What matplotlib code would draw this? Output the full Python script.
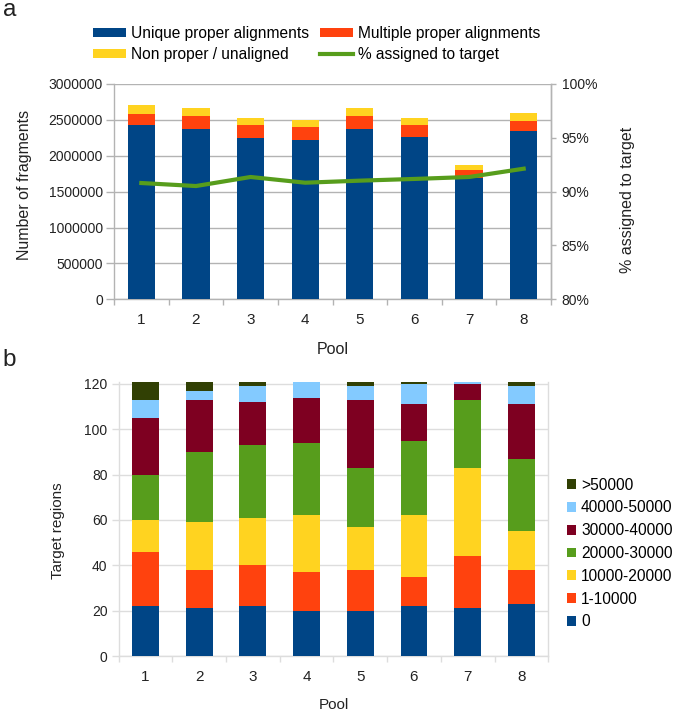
import matplotlib
matplotlib.use("Agg")
import matplotlib.pyplot as plt
import numpy as np
from matplotlib.patches import Patch
from matplotlib.lines import Line2D
from matplotlib.ticker import FuncFormatter, MultipleLocator

plt.rcParams['font.family'] = ['Liberation Sans', 'DejaVu Sans']

pools = ["1", "2", "3", "4", "5", "6", "7", "8"]

# Panel a
unique_proper = [2429000, 2373000, 2252000, 2220000, 2373000, 2262000, 1686000, 2341000]
multiple_proper = [153000, 177000, 177000, 177000, 186000, 162000, 120000, 148000]
non_proper = [130000, 120000, 97000, 101000, 111000, 102000, 65000, 111000]
pct_assigned = [90.80, 90.52, 91.36, 90.83, 91.02, 91.18, 91.36, 92.13]

# Panel b
bin_labels = ["0", "1-10000", "10000-20000", "20000-30000", "30000-40000", "40000-50000", ">50000"]
bin_0 = [22, 21, 22, 20, 20, 22, 21, 23]
bin_1_10000 = [24, 17, 18, 17, 18, 13, 23, 15]
bin_10000_20000 = [14, 21, 21, 25, 19, 27, 39, 17]
bin_20000_30000 = [20, 31, 32, 32, 26, 33, 30, 32]
bin_30000_40000 = [25, 23, 19, 20, 30, 16, 7, 24]
bin_40000_50000 = [8, 4, 7, 7, 6, 9, 1, 8]
bin_gt_50000 = [8, 4, 2, 0, 2, 1, 0, 2]

C_BLUE = "#004586"
C_RED = "#ff420e"
C_YEL = "#ffd320"
C_GREEN = "#579d1c"
C_MAROON = "#7e0021"
C_LBLUE = "#83caff"
C_DGREEN = "#314004"
TXT = "#222222"
FS_TICK = 10
FS_XTICK = 11
FS_TITLE_A = 11.5
FS_TITLE_B = 11
FS_LEG = 11.2
GRID_A = "#b3b3b3"
GRID_B = "#dddddd"

fig = plt.figure(figsize=(6.75, 7.14), dpi=100)

x = np.arange(1, len(pools) + 1)
bw = 0.5

# ---------------- Panel a ----------------
axa = fig.add_axes([0.1689, 0.5808, 0.6474, 0.3016])
u = np.array(unique_proper)
m = np.array(multiple_proper)
n = np.array(non_proper)
axa.bar(x, u, bw, color=C_BLUE, zorder=3)
axa.bar(x, m, bw, bottom=u, color=C_RED, zorder=3)
axa.bar(x, n, bw, bottom=u + m, color=C_YEL, zorder=3)
axa.set_xlim(0.5, 8.5)
axa.set_ylim(0, 3000000)
axa.yaxis.set_major_locator(MultipleLocator(500000))
axa.yaxis.set_major_formatter(FuncFormatter(lambda v, p: f"{int(v)}"))
axa.grid(axis='y', color=GRID_A, linewidth=1.0, zorder=0)
axa.set_axisbelow(True)
axa.spines['top'].set_visible(False)
for s in ['left', 'right', 'bottom']:
    axa.spines[s].set_color(GRID_A)
    axa.spines[s].set_linewidth(1.0)
axa.set_xticks(x)
axa.set_xticklabels(pools)
axa.set_xticks(np.arange(0.5, 9.0, 1.0), minor=True)
axa.tick_params(axis='x', which='major', length=0, pad=10, labelsize=FS_XTICK, labelcolor=TXT)
axa.tick_params(axis='x', which='minor', length=4.3, color=GRID_A, width=1.0)
axa.tick_params(axis='y', length=6, color=GRID_A, width=1.0, labelsize=FS_TICK, labelcolor=TXT, pad=2)
axa.set_ylabel("Number of fragments", fontsize=FS_TITLE_A, color=TXT, va='center')
axa.yaxis.set_label_coords(-0.204, 0.53)
axa.set_xlabel("Pool", fontsize=FS_TITLE_A, color=TXT, va='center')
axa.xaxis.set_label_coords(0.5, -0.235)

axa2 = axa.twinx()
axa2.plot(x, pct_assigned, color=C_GREEN, linewidth=3, zorder=5)
axa2.set_ylim(80, 100)
axa2.yaxis.set_major_locator(MultipleLocator(5))
axa2.yaxis.set_major_formatter(FuncFormatter(lambda v, p: f"{int(round(v))}%"))
axa2.tick_params(axis='y', length=3.6, color=GRID_A, width=1.0, labelsize=FS_TICK, labelcolor=TXT, pad=4)
for s in ['top', 'left', 'bottom']:
    axa2.spines[s].set_visible(False)
axa2.spines['right'].set_color(GRID_A)
axa2.spines['right'].set_linewidth(1.0)
axa2.set_ylabel("% assigned to target", fontsize=FS_TITLE_A, color=TXT, va='center')
axa2.yaxis.set_label_coords(1.174, 0.46)

handles_a = [
    Patch(facecolor=C_BLUE, label="Unique proper alignments"),
    Patch(facecolor=C_YEL, label="Non proper / unaligned"),
    Patch(facecolor=C_RED, label="Multiple proper alignments"),
    Line2D([0], [0], color=C_GREEN, linewidth=3, label="% assigned to target"),
]
fig.legend(handles=handles_a, ncol=2, loc='upper left', bbox_to_anchor=(93 / 675, 1 - 26 / 714),
           frameon=False, fontsize=FS_LEG, handlelength=2.1, handleheight=0.5,
           handletextpad=0.32, columnspacing=0.75, labelspacing=0.36,
           borderaxespad=0, borderpad=0)

fig.text(3 / 675, 1 - 16 / 714, "a", fontsize=17.5, color=TXT, va='baseline', ha='left')

# ---------------- Panel b ----------------
axb = fig.add_axes([0.1757, 0.0812, 0.6365, 0.3842])
series_b = [bin_0, bin_1_10000, bin_10000_20000, bin_20000_30000,
            bin_30000_40000, bin_40000_50000, bin_gt_50000]
colors_b = [C_BLUE, C_RED, C_YEL, C_GREEN, C_MAROON, C_LBLUE, C_DGREEN]
bottom = np.zeros(len(pools))
for vals, col, lab in zip(series_b, colors_b, bin_labels):
    v = np.array(vals, dtype=float)
    axb.bar(x, v, bw, bottom=bottom, color=col, label=lab, zorder=3)
    bottom += v
axb.set_xlim(0.5, 8.5)
axb.set_ylim(0, 121)
axb.yaxis.set_major_locator(MultipleLocator(20))
axb.grid(axis='y', color=GRID_B, linewidth=1.0, zorder=0)
axb.set_axisbelow(True)
axb.spines['top'].set_visible(False)
for s in ['left', 'right', 'bottom']:
    axb.spines[s].set_color(GRID_B)
    axb.spines[s].set_linewidth(1.0)
axb.set_xticks(x)
axb.set_xticklabels(pools)
axb.set_xticks(np.arange(0.5, 9.0, 1.0), minor=True)
axb.tick_params(axis='x', which='major', length=0, pad=10, labelsize=FS_XTICK, labelcolor=TXT)
axb.tick_params(axis='x', which='minor', length=4.3, color=GRID_B, width=1.0)
axb.tick_params(axis='y', length=5, color=GRID_B, width=1.0, labelsize=FS_TICK, labelcolor=TXT, pad=3)
axb.set_ylabel("Target regions", fontsize=FS_TITLE_B, color=TXT, va='center')
axb.yaxis.set_label_coords(-0.141, 0.456)
axb.set_xlabel("Pool", fontsize=FS_TITLE_B, color=TXT, va='center')
axb.xaxis.set_label_coords(0.5, -0.179)

handles_b = [Patch(facecolor=c, label=l) for c, l in zip(colors_b, bin_labels)][::-1]
fig.legend(handles=handles_b, loc='center left', bbox_to_anchor=(567 / 675, 1 - 553.5 / 714),
           frameon=False, fontsize=FS_LEG, handlelength=0.58, handleheight=0.58,
           handletextpad=0.32, labelspacing=0.5, borderaxespad=0, borderpad=0)

fig.text(2 / 675, 1 - 366 / 714, "b", fontsize=17.5, color=TXT, va='baseline', ha='left')

fig.savefig("out.png", dpi=100)
